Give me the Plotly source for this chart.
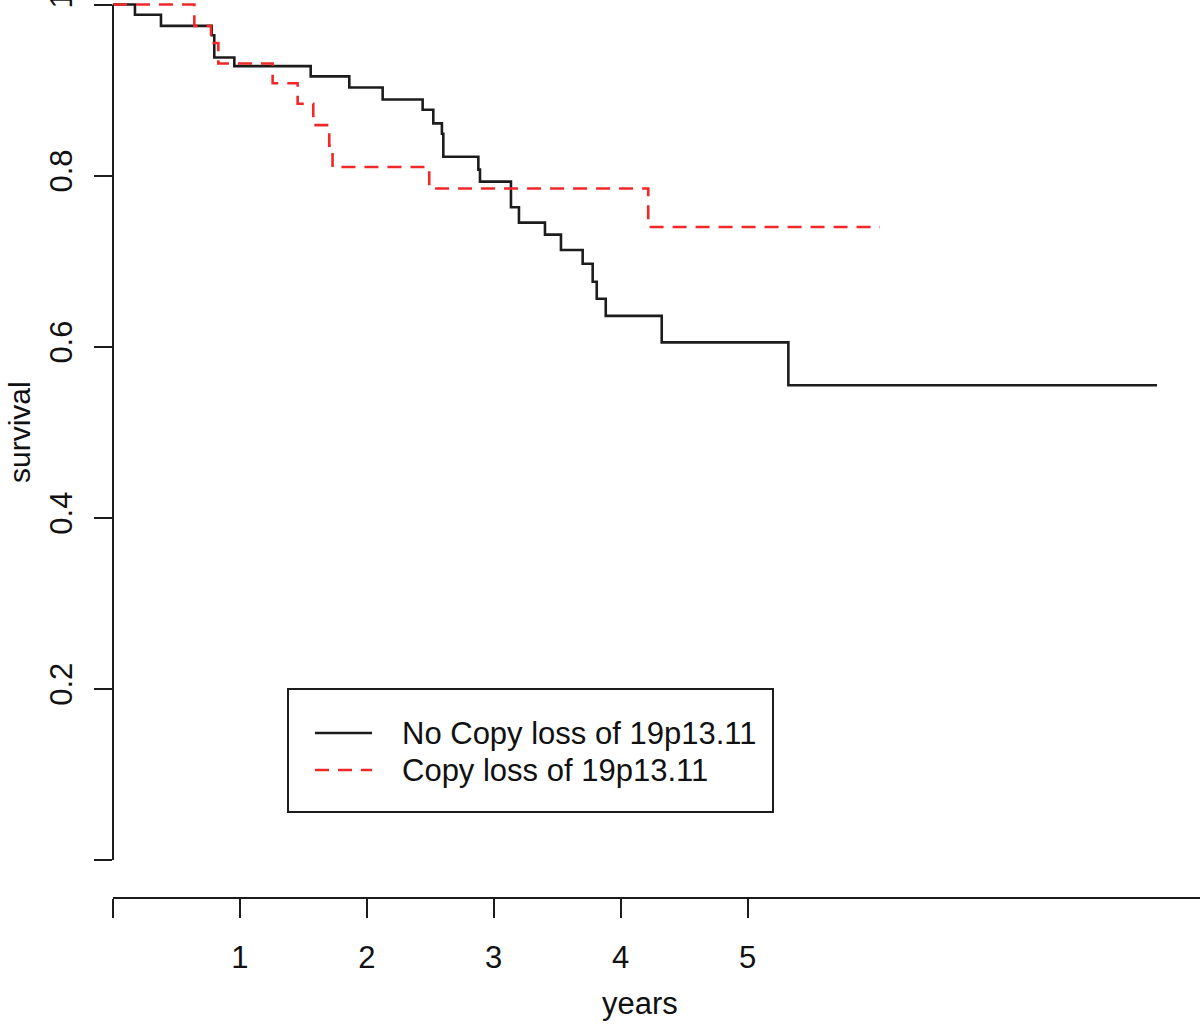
import plotly.graph_objects as go

# ---- data ----
no_loss_years = [0.0, 0.173, 0.378, 0.778, 0.798, 0.956, 1.558, 1.862, 2.125, 2.440,
                 2.524, 2.592, 2.603, 2.879, 2.892, 3.136, 3.199, 3.404, 3.530, 3.701,
                 3.780, 3.812, 3.883, 4.324, 5.322, 8.227]
no_loss_surv = [1.0, 0.988, 0.975, 0.964, 0.938, 0.928, 0.916, 0.903, 0.889, 0.877,
                0.861, 0.849, 0.822, 0.807, 0.793, 0.763, 0.745, 0.731, 0.713, 0.697,
                0.676, 0.656, 0.636, 0.605, 0.555, 0.555]

loss_years = [0.0, 0.641, 0.772, 0.830, 1.258, 1.455, 1.578, 1.704, 1.730, 2.492, 4.218, 6.044]
loss_surv = [1.0, 0.975, 0.955, 0.931, 0.908, 0.884, 0.859, 0.835, 0.810, 0.785, 0.740, 0.740]

series_names = ["No Copy loss of 19p13.11", "Copy loss of 19p13.11"]

x_tickvals = [0, 1, 2, 3, 4, 5]
x_ticktext = ["", "1", "2", "3", "4", "5"]
y_tickvals = [0, 0.2, 0.4, 0.6, 0.8, 1.0]
y_ticktext = ["", "0.2", "0.4", "0.6", "0.8", "1"]

# ---- layout geometry ----
W, H = 1200, 1025
L, T = 113, 0
PW, PH = 1200 - L, 897
XMAX = PW / 126.9
YMIN, YMAX = -37 / 855.5, 1 + 4.5 / 855.5

FONT = "Liberation Sans Narrow, Arial Narrow, Liberation Sans, Arial, sans-serif"
BLACK = "#1c1c1c"
RED = "#f02828"


def px_x(p):
    return (p - L) / PW


def px_y(p):
    return 1 - (p - T) / PH


def val_to_paper_y(v):
    return (v - YMIN) / (YMAX - YMIN)


fig = go.Figure()
fig.add_trace(go.Scatter(x=no_loss_years, y=no_loss_surv, mode="lines", line_shape="hv",
                         line=dict(color=BLACK, width=2.6), name=series_names[0],
                         showlegend=False, hoverinfo="skip"))
fig.add_trace(go.Scatter(x=loss_years, y=loss_surv, mode="lines", line_shape="hv",
                         line=dict(color=RED, width=2.6, dash="14px,9px"), name=series_names[1],
                         showlegend=False, hoverinfo="skip"))

shapes = []
# y axis line only from 0 to 1
shapes.append(dict(type="line", xref="paper", yref="paper", x0=0, x1=0,
                   y0=val_to_paper_y(0), y1=val_to_paper_y(1),
                   line=dict(color=BLACK, width=2)))
# legend box
shapes.append(dict(type="rect", xref="paper", yref="paper",
                   x0=px_x(288), x1=px_x(773), y0=px_y(812), y1=px_y(689),
                   line=dict(color=BLACK, width=2), fillcolor="rgba(0,0,0,0)"))
# legend samples
shapes.append(dict(type="line", xref="paper", yref="paper", x0=px_x(315), x1=px_x(372),
                   y0=px_y(733), y1=px_y(733), line=dict(color=BLACK, width=2.6)))
shapes.append(dict(type="line", xref="paper", yref="paper", x0=px_x(315), x1=px_x(372),
                   y0=px_y(770), y1=px_y(770), line=dict(color=RED, width=2.6, dash="14px,9px")))

annotations = [
    dict(text=series_names[0], xref="paper", yref="paper", x=px_x(400), y=px_y(733),
         xanchor="left", yanchor="middle", showarrow=False, font=dict(family=FONT, size=31, color="#111")),
    dict(text=series_names[1], xref="paper", yref="paper", x=px_x(400), y=px_y(770),
         xanchor="left", yanchor="middle", showarrow=False, font=dict(family=FONT, size=31, color="#111")),
    dict(text="years", xref="paper", yref="paper", x=px_x(640), y=px_y(1003),
         xanchor="center", yanchor="middle", showarrow=False, font=dict(family=FONT, size=31, color="#111")),
    dict(text="survival", xref="paper", yref="paper", x=px_x(19), y=px_y(432),
         xanchor="center", yanchor="middle", textangle=-90, showarrow=False,
         font=dict(family=FONT, size=30, color="#111")),
]

fig.update_layout(
    width=W, height=H,
    margin=dict(l=L, r=0, t=T, b=H - PH - T, pad=0, autoexpand=False),
    paper_bgcolor="white", plot_bgcolor="white",
    shapes=shapes, annotations=annotations,
    showlegend=False,
    xaxis=dict(range=[0, XMAX], showgrid=False, zeroline=False, showline=True,
               automargin=False,
               linecolor=BLACK, linewidth=2, ticks="outside", ticklen=19, tickwidth=2,
               tickcolor=BLACK, tickvals=x_tickvals, ticktext=x_ticktext,
               ticklabelstandoff=13,
               tickfont=dict(family=FONT, size=31, color="#111")),
    yaxis=dict(range=[YMIN, YMAX], showgrid=False, zeroline=False, showline=False,
               automargin=False,
               ticks="outside", ticklen=18, tickwidth=2, tickcolor=BLACK,
               tickvals=y_tickvals, ticktext=y_ticktext, tickangle=-90,
               ticklabelstandoff=10, ticklabeloverflow="allow",
               tickfont=dict(family=FONT, size=31, color="#111")),
)

fig.write_html("out.html", config={"displayModeBar": False},
               post_script="document.body.style.margin='0';document.body.style.overflow='hidden';")
